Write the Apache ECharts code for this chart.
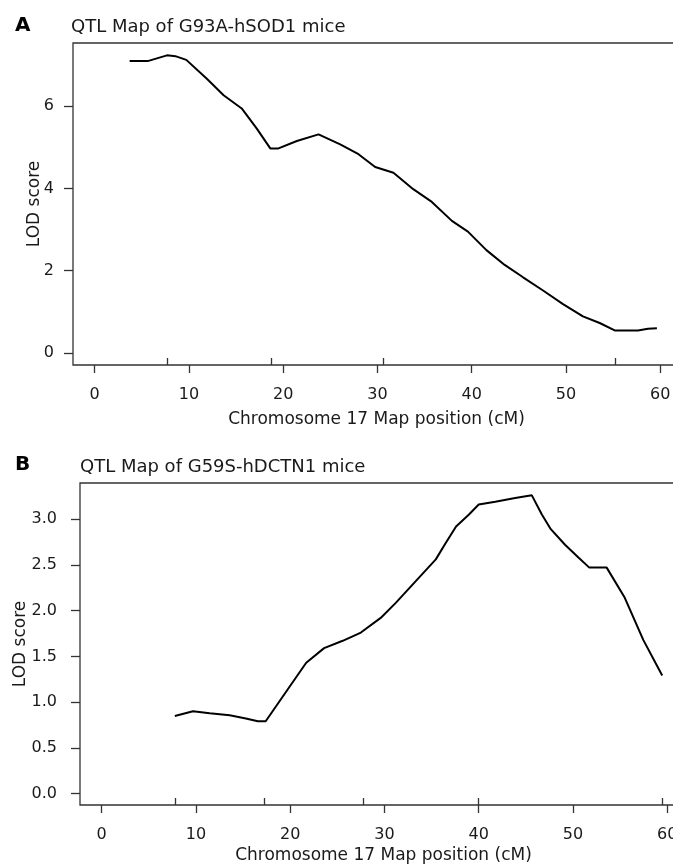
<!DOCTYPE html>
<html>
<head>
<meta charset="utf-8">
<title>QTL maps, chromosome 17</title>
<script src="https://cdn.jsdelivr.net/npm/echarts@6/dist/echarts.min.js"></script>
<style>
  html, body { margin: 0; padding: 0; background: #fff; }
  #chart { width: 673px; height: 867px; }
</style>
</head>
<body>
<div id="chart"></div>
<script>
// panel A - G93A-hSOD1, LOD along chr 17 (cM)
var posA = [3.71, 5.62, 7.67, 8.56, 9.72, 11.9, 13.68, 15.6, 17.2, 18.63, 19.5, 21.45, 23.75, 26.05, 27.99,
    29.76, 31.7, 33.8, 35.77, 37.9, 39.6, 41.56, 43.5, 45.45, 47.57, 49.69, 51.8, 53.58, 55.17, 57.64, 58.7, 59.65];
var lodA = [7.09, 7.09, 7.23, 7.21, 7.12, 6.66, 6.26, 5.94, 5.45, 4.97, 4.97, 5.15, 5.31, 5.07, 4.83,
    4.52, 4.38, 3.98, 3.67, 3.21, 2.95, 2.50, 2.14, 1.84, 1.52, 1.19, 0.89, 0.73, 0.55, 0.55, 0.59, 0.60];
var markersA = [7.67, 18.7, 30.57, 55.27];

// panel B - G59S-hDCTN1
var posB = [7.76, 9.69, 11.46, 13.58, 15.3, 16.57, 17.4, 19.75, 21.7, 23.6, 25.57, 27.5, 29.6, 31.2, 33.3,
    35.45, 36.5, 37.6, 38.97, 40.0, 41.76, 43.87, 45.64, 46.7, 47.65, 49.16, 50.58, 51.74, 53.58, 55.5, 57.46, 59.47];
var lodB = [0.847, 0.90, 0.877, 0.855, 0.82, 0.79, 0.79, 1.14, 1.43, 1.59, 1.67, 1.76, 1.92, 2.085, 2.32,
    2.56, 2.74, 2.92, 3.05, 3.16, 3.19, 3.23, 3.26, 3.05, 2.89, 2.72, 2.58, 2.47, 2.47, 2.14, 1.68, 1.29];
var markersB = [7.76, 17.2, 27.7, 39.96, 59.5];

var xTicks = [0, 10, 20, 30, 40, 50, 60];
var yTicksA = [0, 2, 4, 6];
var yTicksB = [0, 0.5, 1, 1.5, 2, 2.5, 3];

var titleA = 'QTL Map of G93A-hSOD1 mice';
var titleB = 'QTL Map of G59S-hDCTN1 mice';
var xName = 'Chromosome 17 Map position (cM)';
var yName = 'LOD score';

var ink = '#1a1a1a';
var frame = '#333';
var fam = 'DejaVu Sans';

function pairs(xs, ys) {
    var out = [];
    for (var i = 0; i < xs.length; i++) out.push([xs[i], ys[i]]);
    return out;
}

// main x axis: labelled ticks pointing down
function xMain(grid, margin, gap) {
    return {
        type: 'value', gridIndex: grid, position: 'bottom', min: -2.3, max: 62.1,
        axisLine: { show: false, onZero: false },
        axisTick: { show: true, customValues: xTicks, length: 8, lineStyle: { color: frame, width: 1.3 } },
        axisLabel: { customValues: xTicks, margin: margin, fontFamily: fam, fontSize: 16, color: ink },
        splitLine: { show: false },
        name: xName, nameLocation: 'middle', nameGap: gap, nameMoveOverlap: false,
        nameTextStyle: { fontFamily: fam, fontSize: 17, color: ink }
    };
}
// marker rug: short ticks pointing up from the frame
function xRug(grid, marks) {
    return {
        type: 'value', gridIndex: grid, position: 'bottom', min: -2.3, max: 62.1,
        axisLine: { show: false, onZero: false },
        axisTick: { show: true, inside: true, customValues: marks, length: 7, lineStyle: { color: frame, width: 1.3 } },
        axisLabel: { show: false },
        splitLine: { show: false }
    };
}
function yMain(grid, mn, mx, ticks, digits, margin, gap) {
    return {
        type: 'value', gridIndex: grid, min: mn, max: mx,
        axisLine: { show: false, onZero: false },
        axisTick: { show: true, customValues: ticks, length: 9, lineStyle: { color: frame, width: 1.3 } },
        axisLabel: {
            customValues: ticks, margin: margin, fontFamily: fam, fontSize: 16, color: ink,
            formatter: function (v) { return v.toFixed(digits); }
        },
        splitLine: { show: false },
        name: yName, nameLocation: 'middle', nameGap: gap, nameMoveOverlap: false,
        nameTextStyle: { fontFamily: fam, fontSize: 17, color: ink }
    };
}

var myChart = echarts.init(document.getElementById('chart'));
var option = {
    animation: false,
    backgroundColor: '#fff',
    grid: [
        { left: 73, top: 43, width: 607, height: 322, outerBoundsMode: 'none', show: true, borderColor: frame, borderWidth: 1.3 },
        { left: 80, top: 483, width: 607, height: 322, outerBoundsMode: 'none', show: true, borderColor: frame, borderWidth: 1.3 }
    ],
    xAxis: [xMain(0, 22, 46), xRug(0, markersA), xMain(1, 22, 42), xRug(1, markersB)],
    yAxis: [
        yMain(0, -0.29, 7.53, yTicksA, 0, 19, 30),
        yMain(1, -0.125, 3.395, yTicksB, 1, 23, 51)
    ],
    graphic: [
        { type: 'text', x: 15, y: 26, style: { text: 'A', font: 'bold 20px "DejaVu Sans"', fill: '#000', verticalAlign: 'middle' } },
        { type: 'text', x: 71, y: 27, style: { text: titleA, font: '18px "DejaVu Sans"', fill: ink, verticalAlign: 'middle' } },
        { type: 'text', x: 15, y: 465, style: { text: 'B', font: 'bold 20px "DejaVu Sans"', fill: '#000', verticalAlign: 'middle' } },
        { type: 'text', x: 80, y: 467, style: { text: titleB, font: '18px "DejaVu Sans"', fill: ink, verticalAlign: 'middle' } }
    ],
    series: [
        {
            type: 'line', xAxisIndex: 0, yAxisIndex: 0, data: pairs(posA, lodA),
            showSymbol: false, silent: true, lineStyle: { color: '#000', width: 2 }
        },
        {
            type: 'line', xAxisIndex: 2, yAxisIndex: 1, data: pairs(posB, lodB),
            showSymbol: false, silent: true, lineStyle: { color: '#000', width: 2 }
        }
    ]
};
myChart.setOption(option);
</script>
</body>
</html>
